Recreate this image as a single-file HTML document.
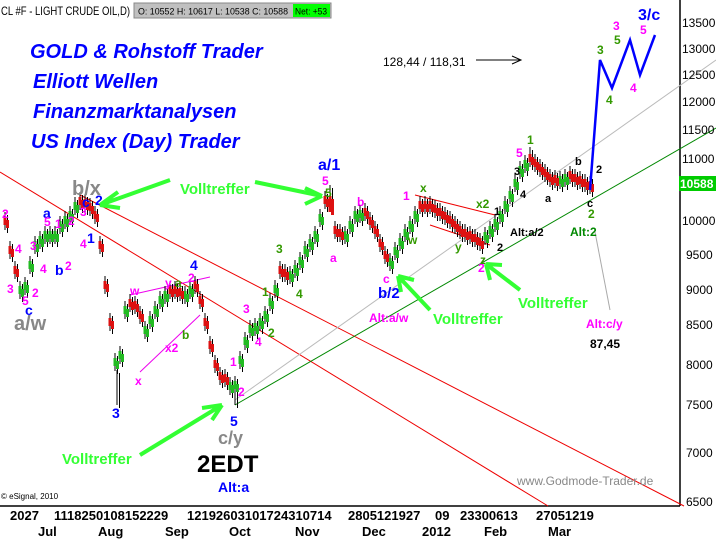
<!DOCTYPE html>
<html><head><meta charset="utf-8"><style>
html,body{margin:0;padding:0;background:#fff;}
body{width:716px;height:540px;overflow:hidden;position:relative;font-family:"Liberation Sans",sans-serif;}
svg{position:absolute;left:0;top:0;}
</style></head><body>
<svg width="716" height="540" xmlns="http://www.w3.org/2000/svg" xmlns:xlink="http://www.w3.org/1999/xlink" font-family="Liberation Sans, sans-serif">
<rect x="0" y="0" width="716" height="540" fill="#fff"/>
<line x1="0" y1="506" x2="680" y2="506" stroke="#000" stroke-width="1.5"/>
<line x1="680" y1="0" x2="680" y2="506" stroke="#000" stroke-width="1.5"/>
<line x1="0" y1="172" x2="548" y2="506" stroke="#e00" stroke-width="1"/>
<line x1="80" y1="195" x2="684" y2="506" stroke="#e00" stroke-width="1"/>
<line x1="235" y1="405" x2="716" y2="128" stroke="#080" stroke-width="1"/>
<line x1="235" y1="400" x2="716" y2="60" stroke="#bbb" stroke-width="1"/>
<line x1="130" y1="295" x2="210" y2="277" stroke="#e0e" stroke-width="1"/>
<line x1="140" y1="372" x2="200" y2="315" stroke="#e0e" stroke-width="1"/>
<line x1="415" y1="195" x2="495" y2="215" stroke="#e00" stroke-width="1"/>
<line x1="430" y1="225" x2="490" y2="245" stroke="#e00" stroke-width="1"/>
<line x1="595" y1="232" x2="610" y2="310" stroke="#aaa" stroke-width="1"/>
<line x1="476" y1="60" x2="520" y2="60" stroke="#000" stroke-width="1"/>
<path d="M512 56 L521 60 L512 64" fill="none" stroke="#000"/>
<g id="cd">
<path stroke="#000" stroke-width="1" fill="none" d="M5 212V230M10 241V259M15 261V279M20 281V299M25 277V295M30 256V274M35 236V254M40 231V249M45 226V244M50 226V244M55 226V244M60 216V234M65 211V229M70 206V224M75 197V215M80 192V210M85 194V212M90 198V216M95 206V224M100 236V254M105 276V294M110 313V331M115 353V371M117 370V405M120 346V364M125 301V319M130 294V312M135 296V314M140 306V324M145 321V339M150 311V329M155 301V319M160 291V309M165 286V304M170 281V299M175 281V299M180 283V301M185 286V304M190 281V299M195 276V294M200 291V309M205 313V331M210 336V354M215 355V373M220 367V385M225 369V387M230 377V395M235 376V405M240 351V369M245 332V350M250 320V338M255 318V336M260 313V331M265 306V324M270 293V311M275 280V298M280 261V279M285 264V282M290 266V284M295 260V278M300 252V270M305 241V259M310 234V252M315 226V244M320 209V227M325 191V209M330 185V209M335 221V239M340 224V242M345 226V244M350 216V234M355 206V224M360 205V223M365 203V221M370 212V230M375 221V239M380 234V252M385 246V264M390 253V271M395 242V260M400 233V251M405 224V242M410 216V234M415 206V224M420 196V214M425 196V214M430 196V214M435 200V218M440 203V221M445 207V225M450 211V229M455 216V234M460 221V239M465 224V242M470 226V244M475 229V247M480 233V251M485 227V245M490 221V239M495 214V232M500 206V224M505 196V214M510 186V204M515 174V192M520 161V179M525 155V173M530 147V167M535 154V172M540 159V177M545 164V182M550 169V187M555 170V188M560 171V189M565 169V187M570 166V184M575 169V187M580 171V189M585 174V192M590 176V194"/>
<path stroke="#2b2" stroke-width="3" fill="none" d="M20 286V294M25 282V290M30 261V269M35 241V249M40 236V244M45 231V239M50 231V239M55 231V239M60 221V229M65 216V224M70 211V219M75 202V210M115 358V366M120 351V359M125 306V314M145 326V334M150 316V324M155 306V314M160 296V304M165 291V299M185 291V299M190 286V294M230 382V390M235 381V389M240 356V364M245 337V345M250 325V333M255 323V331M260 318V326M265 311V319M270 298V306M275 285V293M290 271V279M295 265V273M300 257V265M305 246V254M310 239V247M315 231V239M320 214V222M345 231V239M350 221V229M355 211V219M360 210V218M390 258V266M395 247V255M400 238V246M405 229V237M410 221V229M415 211V219M485 232V240M490 226V234M495 219V227M500 211V219M505 201V209M510 191V199M515 179V187M520 166V174M525 160V168M560 176V184M565 174V182"/>
<path stroke="#d11" stroke-width="3" fill="none" d="M5 217V225M10 246V254M15 266V274M80 197V205M85 199V207M90 203V211M95 211V219M100 241V249M105 281V289M110 318V326M130 299V307M135 301V309M140 311V319M170 286V294M175 286V294M180 288V296M195 281V289M200 296V304M205 318V326M210 341V349M215 360V368M220 372V380M225 374V382M280 266V274M285 269V277M325 196V204M330 196V212M335 226V234M340 229V237M365 208V216M370 217V225M375 226V234M380 239V247M385 251V259M420 201V209M425 201V209M430 201V209M435 205V213M440 208V216M445 212V220M450 216V224M455 221V229M460 226V234M465 229V237M470 231V239M475 234V242M480 238V246M530 154V162M535 159V167M540 164V172M545 169V177M550 174V182M555 175V183M570 171V179M575 174V182M580 176V184M585 179V187M590 181V189"/>
</g>
<use xlink:href="#cd" href="#cd" transform="translate(2.5,3)"/>
<polyline points="590,190 600,60 612,88 630,40 640,75 655,35" fill="none" stroke="#00f" stroke-width="2.5"/>
<text x="1" y="15" font-size="12" textLength="129" lengthAdjust="spacingAndGlyphs">CL #F - LIGHT CRUDE OIL,D)</text>
<rect x="134" y="3" width="197" height="15" fill="#c0c0c0" stroke="#888"/>
<text x="138" y="14.5" font-size="9.5" textLength="150" lengthAdjust="spacingAndGlyphs">O: 10552   H: 10617   L: 10538   C: 10588</text>
<rect x="293" y="4" width="37" height="13" fill="#0f0"/>
<text x="295" y="14.5" font-size="9.5" textLength="32" lengthAdjust="spacingAndGlyphs">Net: +53</text>
<g font-size="20" font-weight="bold" font-style="italic" fill="#00f">
<text x="30" y="58">GOLD &amp; Rohstoff Trader</text>
<text x="33" y="88">Elliott Wellen</text>
<text x="33" y="118">Finanzmarktanalysen</text>
<text x="31" y="148">US Index (Day) Trader</text>
</g>
<g font-size="12" fill="#000">
<text x="682" y="27">13500</text><text x="682" y="53">13000</text><text x="682" y="79">12500</text>
<text x="682" y="106">12000</text><text x="682" y="134">11500</text><text x="682" y="163">11000</text>
<text x="682" y="225">10000</text><text x="686" y="259">9500</text><text x="686" y="294">9000</text>
<text x="686" y="329">8500</text><text x="686" y="369">8000</text><text x="686" y="409">7500</text>
<text x="686" y="457">7000</text><text x="686" y="506">6500</text>
</g>
<rect x="679" y="176" width="37" height="15" fill="#0c0"/>
<text x="680" y="188" font-size="12" fill="#fff" font-weight="bold">10588</text>
<g font-size="13" font-weight="bold" fill="#000">
<text x="10" y="520">2027</text><text x="54" y="520">1118250108152229</text>
<text x="187" y="520">12192603101724310714</text>
<text x="348" y="520">2805121927</text><text x="435" y="520">09</text>
<text x="460" y="520">23300613</text><text x="536" y="520">27051219</text>
<text x="38" y="536">Jul</text><text x="98" y="536">Aug</text><text x="165" y="536">Sep</text>
<text x="229" y="536">Oct</text><text x="295" y="536">Nov</text><text x="362" y="536">Dec</text>
<text x="422" y="536">2012</text><text x="484" y="536">Feb</text><text x="548" y="536">Mar</text>
</g>
<text x="1" y="499" font-size="8">© eSignal, 2010</text>
<text x="517" y="485" font-size="12" fill="#888">www.Godmode-Trader.de</text>
<g font-weight="bold">
<text x="180" y="194" font-size="15" fill="#3f3">Volltreffer</text>
<text x="62" y="464" font-size="15" fill="#3f3">Volltreffer</text>
<text x="433" y="324" font-size="15" fill="#3f3">Volltreffer</text>
<text x="518" y="308" font-size="15" fill="#3f3">Volltreffer</text>
<text x="72" y="195" font-size="20" fill="#888">b/x</text>
<text x="14" y="330" font-size="20" fill="#888">a/w</text>
<text x="218" y="444" font-size="18" fill="#888">c/y</text>
<text x="197" y="472" font-size="24" fill="#000">2EDT</text>
<text x="218" y="492" font-size="14" fill="#00f">Alt:a</text>
<text x="318" y="170" font-size="16" fill="#00f">a/1</text>
<text x="378" y="298" font-size="15" fill="#00f">b/2</text>
<text x="638" y="20" font-size="16" fill="#00f">3/c</text>
<text x="369" y="322" font-size="12" fill="#f0f">Alt:a/w</text>
<text x="586" y="328" font-size="12" fill="#f0f">Alt:c/y</text>
<text x="590" y="348" font-size="12" fill="#000">87,45</text>
<text x="510" y="236" font-size="11" fill="#000">Alt:a/2</text>
<text x="570" y="236" font-size="12" fill="#080">Alt:2</text>
<text x="383" y="66" font-size="12" fill="#000" font-weight="normal">128,44 / 118,31</text>
<g font-size="14" fill="#00f">
<text x="112" y="418">3</text><text x="230" y="426">5</text><text x="190" y="270">4</text>
<text x="87" y="243">1</text><text x="95" y="205">2</text><text x="55" y="275">b</text>
<text x="43" y="218">a</text><text x="82" y="207">c</text><text x="25" y="315">c</text>
</g>
<g font-size="12" fill="#f0f">
<text x="2" y="218">2</text><text x="15" y="253">4</text><text x="30" y="250">3</text>
<text x="7" y="293">3</text><text x="22" y="305">5</text><text x="32" y="297">2</text>
<text x="40" y="273">4</text><text x="55" y="228">1</text><text x="44" y="226">5</text>
<text x="65" y="270">2</text><text x="80" y="248">4</text><text x="68" y="225">2</text>
<text x="80" y="216">3</text><text x="322" y="185">5</text><text x="330" y="262">a</text>
<text x="357" y="206">b</text><text x="383" y="283">c</text><text x="403" y="200">1</text>
<text x="478" y="272">2</text><text x="516" y="157">5</text><text x="613" y="30">3</text>
<text x="640" y="34">5</text><text x="630" y="92">4</text><text x="230" y="366">1</text>
<text x="238" y="396">2</text><text x="243" y="313">3</text><text x="255" y="346">4</text>
<text x="130" y="295">w</text><text x="135" y="385">x</text><text x="165" y="287">y</text>
<text x="165" y="352">x2</text><text x="188" y="282">2</text>
</g>
<g font-size="12" fill="#390">
<text x="597" y="54">3</text><text x="614" y="44">5</text><text x="606" y="104">4</text>
<text x="262" y="296">1</text><text x="276" y="253">3</text><text x="296" y="298">4</text>
<text x="268" y="337">2</text><text x="325" y="197">5</text><text x="527" y="144">1</text>
<text x="420" y="192">x</text><text x="476" y="208">x2</text><text x="408" y="244">w</text>
<text x="455" y="251">y</text><text x="588" y="218">2</text><text x="175" y="287">a</text>
<text x="182" y="339">b</text><text x="480" y="264">z</text>
</g>
<g font-size="11" fill="#000">
<text x="494" y="215">1</text><text x="497" y="251">2</text><text x="514" y="175">3</text>
<text x="520" y="198">4</text><text x="545" y="202">a</text><text x="575" y="165">b</text>
<text x="596" y="173">2</text><text x="587" y="207">c</text>
</g>
</g>
<g stroke="#3f3" stroke-width="4" fill="none">
<path d="M170 180 L100 205 M100 205 L118 192 M100 205 L120 208"/>
<path d="M255 182 L322 196 M322 196 L305 188 M322 196 L305 204"/>
<path d="M140 455 L222 405 M222 405 L202 408 M222 405 L212 420"/>
<path d="M430 310 L398 276 M398 276 L401 292 M398 276 L414 280"/>
<path d="M520 290 L486 264 M486 264 L490 280 M486 264 L502 265"/>
</g>
</svg>
</body></html>
